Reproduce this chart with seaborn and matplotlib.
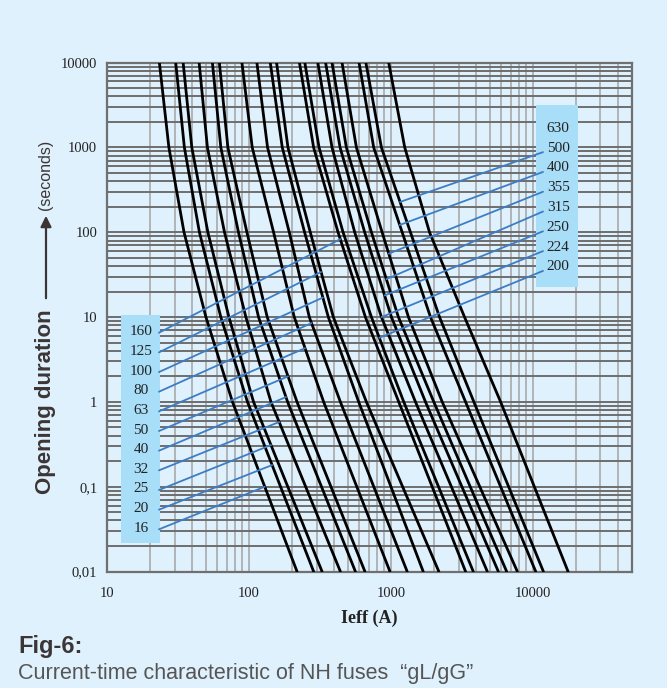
import numpy as np
import pandas as pd
import matplotlib.pyplot as plt
import seaborn as sns
from matplotlib.patches import Rectangle

# fuse ratings (A), one curve each
ratings = [16, 20, 25, 32, 40, 50, 63, 80, 100, 125, 160, 200, 224, 250, 315, 355, 400, 500, 630]

times = [10000, 1000, 100, 10, 1, 0.01]

# current (A) of each curve at those times
i_t10000 = [23.4, 30.5, 34.4, 44.6, 55.3, 61.9, 89.3, 113.8, 141.4, 156.6, 227, 247.7, 306, 347, 385, 453, 597, 667, 966]
i_t1000 = [27.3, 35.1, 39.6, 51.0, 63.4, 71.1, 105.5, 135.3, 171.8, 188.4, 285.7, 312, 385, 438.7, 486, 572, 757, 858, 1253]
i_t100 = [34.9, 44.8, 51.4, 67.3, 84.4, 96.8, 149.2, 192.5, 246.8, 270.7, 424.7, 460.7, 556.5, 654.3, 729.8, 868, 1202, 1375, 1873]
i_t10 = [49.8, 63.4, 72.3, 95.2, 116.9, 134.6, 208.7, 266.4, 362.7, 393.4, 662, 729.8, 858.5, 1010, 1131, 1331, 1903, 2203, 3306]
i_t1 = [76.6, 97.7, 107.8, 143, 187.3, 218.2, 336.1, 441, 593.6, 672.6, 1137, 1233, 1491, 1754, 2008, 2301, 3361, 3846, 5936]
i_t001 = [218.2, 285.7, 327.5, 441, 562.6, 656.6, 985.4, 1303, 1690, 2178, 3361, 3808, 4781, 5718, 6545, 7785, 10484, 11880, 17720]

# label boxes
left_labels = [160, 125, 100, 80, 63, 50, 40, 32, 25, 20, 16]
right_labels = [630, 500, 400, 355, 315, 250, 224, 200]

# time (s) where each leader line meets its curve
leader_t = {16: 0.1, 20: 0.18, 25: 0.31, 32: 0.58, 40: 1.14, 50: 2.0, 63: 4.3, 80: 8.5,
            100: 17, 125: 34, 160: 83, 200: 5.7, 224: 10, 250: 18, 315: 28, 355: 56,
            400: 122, 500: 228}

x_ticks = [10, 100, 1000, 10000]
x_ticklabels = ['10', '100', '1000', '10000']
y_ticks = [0.01, 0.1, 1, 10, 100, 1000, 10000]
y_ticklabels = ['0,01', '0,1', '1', '10', '100', '1000', '10000']

bg = '#dff1fc'
box_color = '#a8def8'
leader_color = '#3d7dc4'
dark = '#3d3535'

sns.set_style('ticks')
plt.rcParams['font.family'] = ['Liberation Sans', 'DejaVu Sans']

cols = [i_t10000, i_t1000, i_t100, i_t10, i_t1, i_t001]
rows = []
for k, r in enumerate(ratings):
    for t, arr in zip(times, cols):
        rows.append({'rating': r, 'current': arr[k], 'time': t})
df = pd.DataFrame(rows)

fig = plt.figure(figsize=(6.67, 6.88), dpi=100, facecolor=bg)
ax = fig.add_axes([0.1604, 0.1693, 0.7871, 0.7396])
ax.set_facecolor(bg)
ax.set_xscale('log')
ax.set_yscale('log')
ax.set_xlim(10, 50000)
ax.set_ylim(0.01, 10000)

# grid: light verticals, darker horizontals
ax.grid(axis='x', which='both', color='#a4a4a4', lw=1.1, zorder=0)
ax.grid(axis='y', which='both', color='#6e6e6e', lw=1.4, zorder=0)
ax.set_axisbelow(True)

sns.lineplot(data=df, x='current', y='time', units='rating', estimator=None, sort=False,
             color='black', lw=2.0, ax=ax, legend=False, zorder=4)

# label boxes
ax.add_patch(Rectangle((0.0267, 0.056), 0.0743, 0.4481, transform=ax.transAxes,
                       facecolor=box_color, edgecolor='none', zorder=3))
ax.add_patch(Rectangle((0.8171, 0.5586), 0.0795, 0.3583, transform=ax.transAxes,
                       facecolor=box_color, edgecolor='none', zorder=3))

serif = ['Liberation Serif', 'DejaVu Serif']


def curve_point(r):
    k = ratings.index(r)
    cur = [arr[k] for arr in cols]
    lt = np.log10(times[::-1])
    li = np.log10(cur[::-1])
    return 10 ** np.interp(np.log10(leader_t[r]), lt, li), leader_t[r]


for n, r in enumerate(left_labels):
    y = 0.4713 - n * 0.03864
    ax.text(0.0648, y, str(r), transform=ax.transAxes, ha='center', va='center',
            fontsize=11, family=serif, color='#222222', zorder=5)
    ax.annotate('', xy=curve_point(r), xycoords='data', xytext=(0.099, y - 0.002),
                textcoords='axes fraction',
                arrowprops=dict(arrowstyle='-', color=leader_color, lw=1.3, shrinkA=0, shrinkB=0),
                zorder=5)

for n, r in enumerate(right_labels):
    y = 0.8711 - n * 0.0389
    ax.text(0.8596, y, str(r), transform=ax.transAxes, ha='center', va='center',
            fontsize=11, family=serif, color='#222222', zorder=5)
    if r in leader_t:
        ax.annotate('', xy=curve_point(r), xycoords='data', xytext=(0.8305, y - 0.008),
                    textcoords='axes fraction',
                    arrowprops=dict(arrowstyle='-', color=leader_color, lw=1.3, shrinkA=0, shrinkB=0),
                    zorder=5)

ax.set_xticks(x_ticks)
ax.set_xticklabels(x_ticklabels, family=serif, fontsize=10.5)
ax.set_yticks(y_ticks)
ax.set_yticklabels(y_ticklabels, family=serif, fontsize=10.5)
ax.tick_params(which='both', length=0, colors='#222222')
ax.tick_params(axis='y', pad=7)
ax.tick_params(axis='x', pad=11)
for s in ax.spines.values():
    s.set_color('#707070')
    s.set_linewidth(1.6)

ax.set_xlabel('Ieff (A)', family=serif, fontsize=13, fontweight='bold', color='#222222', labelpad=7)
ax.set_ylabel('')

# y-axis caption with arrow
fig.text(46 / 667, 1 - 494 / 688, 'Opening duration', rotation=90, ha='center', va='bottom',
         fontsize=16, fontweight='bold', color=dark)
fig.text(46 / 667, 1 - 210 / 688, '(seconds)', rotation=90, ha='center', va='bottom',
         fontsize=11.5, color=dark)
ax.annotate('', xy=(46 / 667, 1 - 213 / 688), xycoords='figure fraction',
            xytext=(46 / 667, 1 - 301 / 688), textcoords='figure fraction',
            arrowprops=dict(arrowstyle='-|>', color=dark, lw=1.6, mutation_scale=16))

fig.text(18 / 667, 1 - 647 / 688, 'Fig-6:', ha='left', va='center', fontsize=17,
         fontweight='bold', color=dark)
fig.text(18 / 667, 1 - 673 / 688, 'Current-time characteristic of NH fuses  \u201cgL/gG\u201d',
         ha='left', va='center', fontsize=15.5, color='#555555')

fig.savefig('out.png', dpi=100, facecolor=bg)
